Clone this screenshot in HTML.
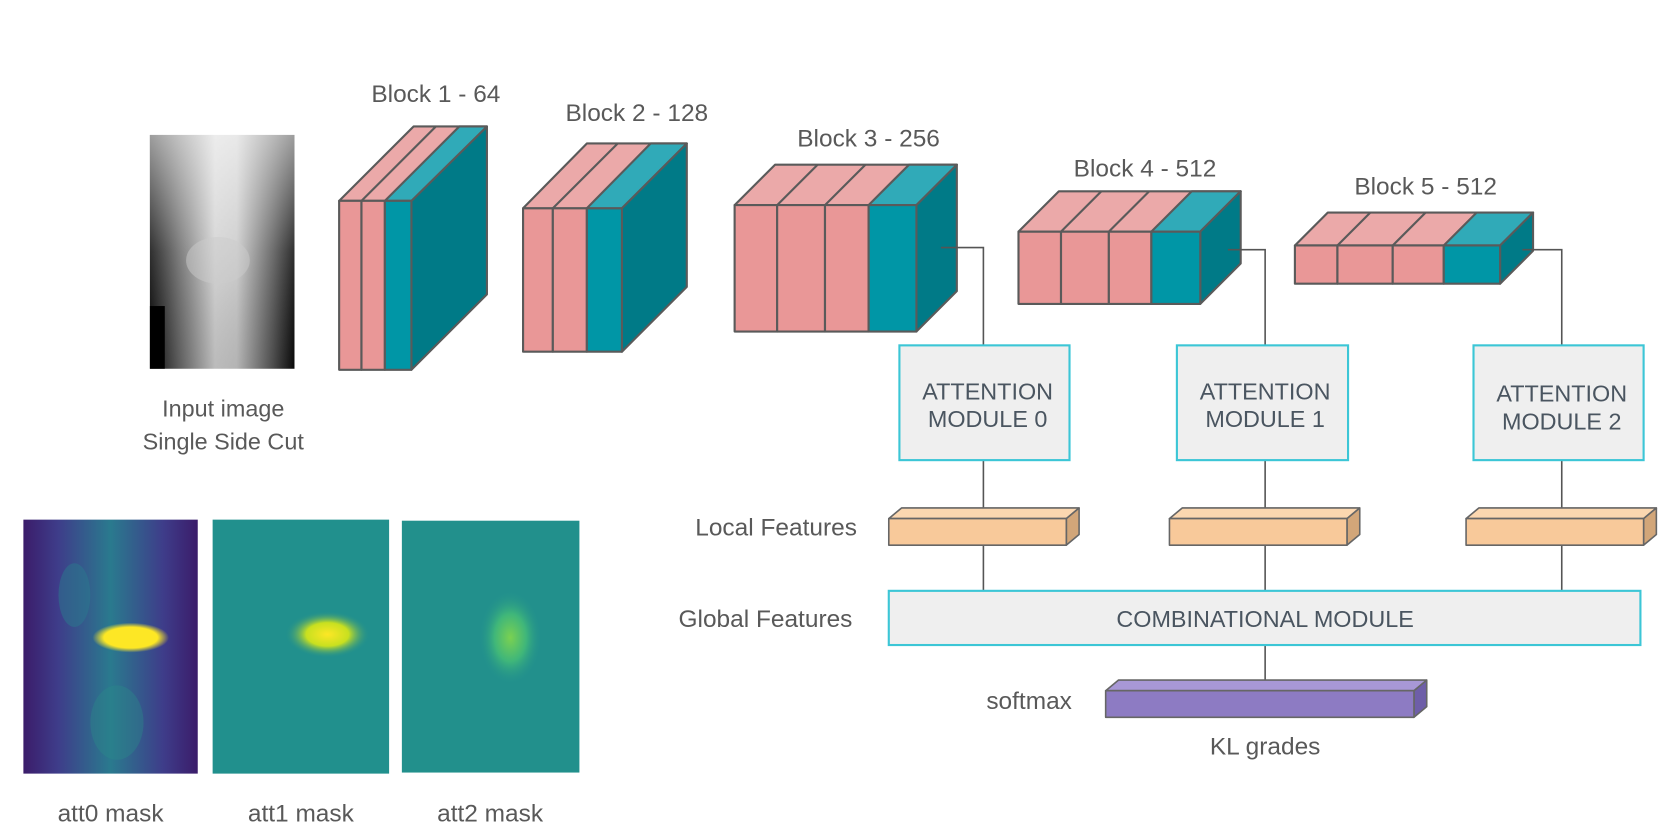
<!DOCTYPE html>
<html><head><meta charset="utf-8"><style>
html,body{margin:0;padding:0;background:#fff;}
svg{display:block;}
text{font-family:"Liberation Sans",sans-serif;fill:#595959;}
</style></head><body>
<svg width="1667" height="831" viewBox="0 0 1568 782" preserveAspectRatio="none" xmlns="http://www.w3.org/2000/svg">
<defs>
<linearGradient id="xr" x1="0" x2="1" y1="0" y2="0">
<stop offset="0" stop-color="#0a0a0a"/><stop offset="0.2" stop-color="#666"/><stop offset="0.45" stop-color="#d0d0d0"/><stop offset="0.6" stop-color="#c8c8c8"/><stop offset="0.85" stop-color="#555"/><stop offset="1" stop-color="#0a0a0a"/></linearGradient>
<linearGradient id="xv" x1="0" x2="0" y1="0" y2="1">
<stop offset="0" stop-color="#fff" stop-opacity="0.6"/><stop offset="0.5" stop-color="#fff" stop-opacity="0.15"/><stop offset="1" stop-color="#000" stop-opacity="0.1"/></linearGradient>
<radialGradient id="y0" cx="0.5" cy="0.5" r="0.5"><stop offset="0" stop-color="#fde725"/><stop offset="0.7" stop-color="#fde725"/><stop offset="1" stop-color="#fde725" stop-opacity="0"/></radialGradient>
<radialGradient id="y1" cx="0.5" cy="0.5" r="0.5"><stop offset="0" stop-color="#fde725"/><stop offset="0.5" stop-color="#c8e020"/><stop offset="1" stop-color="#21908d" stop-opacity="0"/></radialGradient>
<radialGradient id="y2" cx="0.5" cy="0.5" r="0.5"><stop offset="0" stop-color="#7ad151"/><stop offset="0.5" stop-color="#3fb67a"/><stop offset="1" stop-color="#21908d" stop-opacity="0"/></radialGradient>
<linearGradient id="p0" x1="0" x2="1"><stop offset="0" stop-color="#3b1c6a"/><stop offset="0.2" stop-color="#3e3d8a"/><stop offset="0.5" stop-color="#2a7a8e"/><stop offset="0.8" stop-color="#3e3d8a"/><stop offset="1" stop-color="#3b1c6a"/></linearGradient>
</defs>

<rect x="141" y="127" width="136" height="220" fill="url(#xr)"/>
<rect x="141" y="127" width="136" height="220" fill="url(#xv)"/>
<ellipse cx="205" cy="245" rx="30" ry="22" fill="#ccc" opacity="0.5"/>
<rect x="141" y="288" width="14" height="59" fill="#000"/>
<text x="210" y="392" font-size="22" text-anchor="middle">Input image</text>
<text x="210" y="423" font-size="22" text-anchor="middle">Single Side Cut</text>

<g stroke="#5a5a5a" stroke-width="2" stroke-linejoin="round">
<polygon points="319,189 389,119 458,119 388,189" fill="#eba9a9"/>
<polygon points="387,189 458,119 458,277 387,348" fill="#007a87"/>
<polygon points="362,189 432,119 458,119 387,189" fill="#30aab8"/>
<rect x="319" y="189" width="21" height="159" fill="#e99797"/>
<rect x="340" y="189" width="22" height="159" fill="#e99797"/>
<rect x="362" y="189" width="25" height="159" fill="#0096a6"/>
<line x1="340" y1="189" x2="410" y2="119"/>
<polygon points="492,196 552,135 646,135 585,196" fill="#eba9a9"/>
<polygon points="552,196 612,135 646,135 585,196" fill="#30aab8"/>
<polygon points="585,196 646,135 646,270 585,331" fill="#007a87"/>
<rect x="492" y="196" width="28" height="135" fill="#e99797"/>
<rect x="520" y="196" width="32" height="135" fill="#e99797"/>
<rect x="552" y="196" width="33" height="135" fill="#0096a6"/>
<line x1="520" y1="196" x2="581" y2="135"/>
<polygon points="691,193 729,155 900,155 862,193" fill="#eba9a9"/>
<polygon points="817,193 855,155 900,155 862,193" fill="#30aab8"/>
<polygon points="862,193 900,155 900,274 862,312" fill="#007a87"/>
<rect x="691" y="193" width="40" height="119" fill="#e99797"/>
<rect x="731" y="193" width="45" height="119" fill="#e99797"/>
<rect x="776" y="193" width="41" height="119" fill="#e99797"/>
<rect x="817" y="193" width="45" height="119" fill="#0096a6"/>
<line x1="731" y1="193" x2="769" y2="155"/><line x1="776" y1="193" x2="814" y2="155"/>
<polygon points="958,218 996,180 1167,180 1129,218" fill="#eba9a9"/>
<polygon points="1083,218 1121,180 1167,180 1129,218" fill="#30aab8"/>
<polygon points="1129,218 1167,180 1167,248 1129,286" fill="#007a87"/>
<rect x="958" y="218" width="40" height="68" fill="#e99797"/>
<rect x="998" y="218" width="45" height="68" fill="#e99797"/>
<rect x="1043" y="218" width="40" height="68" fill="#e99797"/>
<rect x="1083" y="218" width="46" height="68" fill="#0096a6"/>
<line x1="998" y1="218" x2="1036" y2="180"/><line x1="1043" y1="218" x2="1081" y2="180"/>
<polygon points="1218,231 1249,200 1442,200 1411,231" fill="#eba9a9"/>
<polygon points="1358,231 1389,200 1442,200 1411,231" fill="#30aab8"/>
<polygon points="1411,231 1442,200 1442,236 1411,267" fill="#007a87"/>
<rect x="1218" y="231" width="40" height="36" fill="#e99797"/>
<rect x="1258" y="231" width="52" height="36" fill="#e99797"/>
<rect x="1310" y="231" width="48" height="36" fill="#e99797"/>
<rect x="1358" y="231" width="53" height="36" fill="#0096a6"/>
<line x1="1258" y1="231" x2="1289" y2="200"/><line x1="1310" y1="231" x2="1341" y2="200"/>
</g>

<g font-size="23" text-anchor="middle">
<text x="410" y="96">Block 1 - 64</text>
<text x="599" y="114">Block 2 - 128</text>
<text x="817" y="138">Block 3 - 256</text>
<text x="1077" y="166">Block 4 - 512</text>
<text x="1341" y="183">Block 5 - 512</text>
</g>

<g stroke="#555" stroke-width="1.5" fill="none">
<polyline points="885,233 925,233 925,325"/>
<polyline points="1155,235 1190,235 1190,325"/>
<polyline points="1432,235 1469,235 1469,325"/>
<line x1="925" y1="433" x2="925" y2="556"/>
<line x1="1190" y1="433" x2="1190" y2="556"/>
<line x1="1469" y1="433" x2="1469" y2="556"/>
<line x1="1190" y1="607" x2="1190" y2="650"/>
</g>

<g fill="#efefef" stroke="#3cc6d6" stroke-width="2">
<rect x="846" y="325" width="160" height="108"/>
<rect x="1107" y="325" width="161" height="108"/>
<rect x="1386" y="325" width="160" height="108"/>
<rect x="836" y="556" width="707" height="51"/>
</g>
<g font-size="22" text-anchor="middle">
<text x="929" y="376" style="fill:#4a5560">ATTENTION</text><text x="929" y="402" style="fill:#4a5560">MODULE 0</text>
<text x="1190" y="376" style="fill:#4a5560">ATTENTION</text><text x="1190" y="402" style="fill:#4a5560">MODULE 1</text>
<text x="1469" y="378" style="fill:#4a5560">ATTENTION</text><text x="1469" y="404" style="fill:#4a5560">MODULE 2</text>
<text x="1190" y="590" style="fill:#4a5560">COMBINATIONAL MODULE</text>
</g>

<g stroke="#666" stroke-width="1.5" stroke-linejoin="round">
<polygon points="836,488 848,478 1015,478 1003,488" fill="#fbd7b0"/>
<polygon points="1003,488 1015,478 1015,503 1003,513" fill="#d2a679"/>
<rect x="836" y="488" width="167" height="25" fill="#f8c99a"/>
<polygon points="1100,488 1112,478 1279,478 1267,488" fill="#fbd7b0"/>
<polygon points="1267,488 1279,478 1279,503 1267,513" fill="#d2a679"/>
<rect x="1100" y="488" width="167" height="25" fill="#f8c99a"/>
<polygon points="1379,488 1391,478 1558,478 1546,488" fill="#fbd7b0"/>
<polygon points="1546,488 1558,478 1558,503 1546,513" fill="#d2a679"/>
<rect x="1379" y="488" width="167" height="25" fill="#f8c99a"/>
<polygon points="1040,650 1052,640 1342,640 1330,650" fill="#a898d6"/>
<polygon points="1330,650 1342,640 1342,665 1330,675" fill="#6e5ea8"/>
<rect x="1040" y="650" width="290" height="25" fill="#8d7bc3"/>
</g>

<g font-size="23">
<text x="730" y="504" text-anchor="middle">Local Features</text>
<text x="720" y="590" text-anchor="middle">Global Features</text>
<text x="968" y="667" text-anchor="middle">softmax</text>
<text x="1190" y="710" text-anchor="middle">KL grades</text>
</g>

<rect x="22" y="489" width="164" height="239" fill="url(#p0)"/>
<ellipse cx="70" cy="560" rx="15" ry="30" fill="#2a7a8e" opacity="0.5"/>
<ellipse cx="110" cy="680" rx="25" ry="35" fill="#2a8a8a" opacity="0.4"/>
<ellipse cx="123" cy="600" rx="36" ry="14" fill="url(#y0)"/>
<rect x="200" y="489" width="166" height="239" fill="#21908d"/>
<ellipse cx="308" cy="597" rx="40" ry="22" fill="url(#y1)"/>
<rect x="378" y="490" width="167" height="237" fill="#22908c"/>
<ellipse cx="480" cy="600" rx="30" ry="45" fill="url(#y2)"/>
<g font-size="23" text-anchor="middle">
<text x="104" y="773">att0 mask</text>
<text x="283" y="773">att1 mask</text>
<text x="461" y="773">att2 mask</text>
</g>
</svg>
</body></html>
